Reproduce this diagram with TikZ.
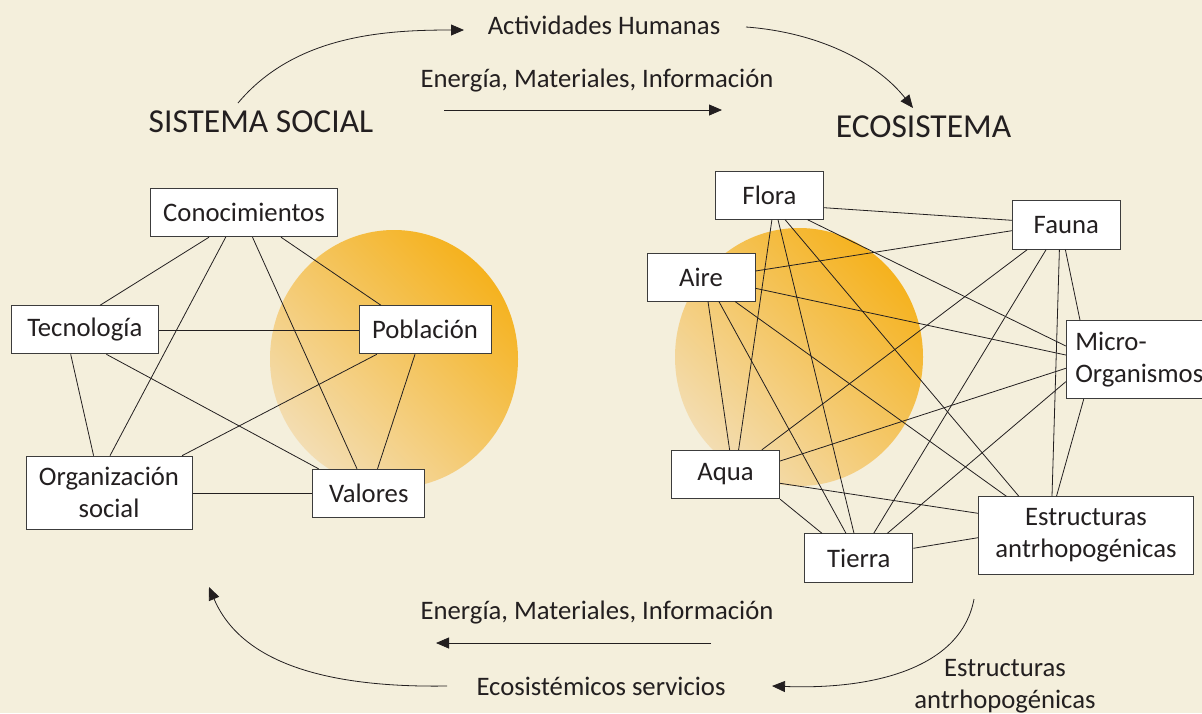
\documentclass[tikz,border=0pt]{standalone}
\usepackage{fontspec}
\setmainfont{Carlito}
\usetikzlibrary{arrows.meta}
\definecolor{bg}{HTML}{F4EFDC}
\definecolor{ink}{HTML}{231F20}
\definecolor{frame}{HTML}{3C3C3C}
\definecolor{orD}{HTML}{F5B21E}
\definecolor{orL}{HTML}{F3DDB2}
\begin{document}
\begin{tikzpicture}[x=1pt,y=-1pt,
  box/.style={draw=frame, line width=1pt, fill=white, text=ink, inner sep=0pt, align=center,
    font=\fontsize{26.7}{32}\selectfont},
  link/.style={draw=ink, line width=0.8pt},
  arr/.style={draw=ink, line width=0.8pt, -{Triangle[length=13pt,width=11pt]}},
  lbl/.style={text=ink, font=\fontsize{26.7}{32}\selectfont, inner sep=0pt, align=center},
  ttl/.style={text=ink, font=\fontsize{33.5}{38}\selectfont, inner sep=0pt},
  blob/.style={top color=orD, bottom color=orL, shading angle=-45}]
\fill[bg] (0,0) rectangle (1202,713);
\useasboundingbox (0,0) rectangle (1202,713);
\clip (0,0) rectangle (1202,713);

% orange discs
\shade[blob] (394,359) ellipse [x radius=124, y radius=129];
\shade[blob] (799,357) ellipse [x radius=124, y radius=129];

% titles and labels
\node[lbl] (act) at (604,25) {Actividades Humanas};
\node[lbl] (emiT) at (597,81) {Energía, Materiales, Información};
\node[ttl] (ss) at (261,122) {SISTEMA SOCIAL};
\node[ttl] (eco) at (923.5,127) {ECOSISTEMA};
\node[lbl] (emiB) at (597,613) {Energía, Materiales, Información};
\node[lbl] (ecs) at (601,686) {Ecosistémicos servicios};
\node[lbl] (esa) at (1005,686) {Estructuras\\antrhopogénicas};

% top arrows
\coordinate (c1s) at (238,103);
\coordinate (c1e) at (464,30);
\coordinate (c2s) at (746,27);
\coordinate (c2e) at (913,108);
\coordinate (s1s) at (444,110);
\coordinate (s1e) at (722,110);
\draw[arr] (c1s) .. controls (295,35) and (385,30) .. (c1e);
\draw[arr] (c2s) .. controls (815,32) and (875,60) .. (c2e);
\draw[arr] (s1s) -- (s1e);

% bottom arrows
\coordinate (b1s) at (447,686);
\coordinate (b1e) at (209,587);
\coordinate (b2s) at (974,599);
\coordinate (b2e) at (772,686);
\coordinate (s2s) at (711,643);
\coordinate (s2e) at (436,643);
\draw[arr] (b1s) .. controls (320,688) and (240,660) .. (b1e);
\draw[arr] (b2s) .. controls (962,665) and (880,690) .. (b2e);
\draw[arr] (s2s) -- (s2e);

% left network
\node[box, minimum width=187pt, minimum height=48pt] (con) at (244,212.7) {Conocimientos};
\node[box, minimum width=147pt, minimum height=48pt] (tec) at (84.8,329.8) {Tecnología};
\node[box, minimum width=132pt, minimum height=48pt] (pob) at (425,329.8) {Población};
\node[box, minimum width=166pt, minimum height=73pt] (org) at (109,492.7) {Organización\\social};
\node[box, minimum width=112pt, minimum height=48pt] (val) at (368.8,493.3) {Valores};

\draw[link] (con.south -| 209,0) -- (tec.north -| 100,0);
\draw[link] (con.south -| 225.7,0) -- (org.north -| 110,0);
\draw[link] (con.south -| 252.5,0) -- (val.north -| 357,0);
\draw[link] (con.south -| 281,0) -- (pob.north -| 381,0);
\draw[link] (tec.east |- 0,330.3) -- (pob.west |- 0,330.3);
\draw[link] (tec.south -| 70.7,0) -- (org.north -| 93.6,0);
\draw[link] (tec.south -| 106.4,0) -- (val.north -| 318.6,0);
\draw[link] (pob.south -| 376.8,0) -- (org.north -| 182,0);
\draw[link] (pob.south -| 415,0) -- (val.north -| 377.5,0);
\draw[link] (org.east |- 0,493.3) -- (val.west |- 0,493.3);

% right network
\node[box, minimum width=108pt, minimum height=48pt] (flo) at (769.5,195.3) {Flora};
\node[box, minimum width=108pt, minimum height=48.6pt] (fau) at (1066.3,225) {Fauna};
\node[box, minimum width=108pt, minimum height=48pt] (air) at (701,277) {Aire};
\node[box, anchor=west, align=left, inner xsep=9pt, text width=140pt, minimum height=78pt] (mic) at (1065.8,359.7) {Micro-\\Organismos};
\node[box, minimum width=108pt, minimum height=48.4pt] (aqu) at (725.6,474.5) {Aqua};
\node[box, minimum width=108pt, minimum height=48.3pt] (tie) at (858.8,558) {Tierra};
\node[box, minimum width=215pt, minimum height=78pt] (est) at (1086,535.7) {Estructuras\\antrhopogénicas};

\draw[link] (flo.east |- 0,207.7) -- (fau.west |- 0,220.3);
\draw[link] (flo.south -| 807.7,0) -- (mic.west |- 0,346);
\draw[link] (flo.south -| 785.2,0) -- (est.north -| 1018.8,0);
\draw[link] (flo.south -| 778,0) -- (tie.north -| 854,0);
\draw[link] (flo.south -| 771.9,0) -- (aqu.north -| 738.6,0);
\draw[link] (air.east |- 0,271) -- (fau.west |- 0,230.7);
\draw[link] (air.east |- 0,288.3) -- (mic.west |- 0,355);
\draw[link] (air.south -| 735,0) -- (est.north -| 1006.3,0);
\draw[link] (air.south -| 718.9,0) -- (tie.north -| 846,0);
\draw[link] (air.south -| 708,0) -- (aqu.north -| 729.6,0);
\draw[link] (fau.south -| 1027,0) -- (aqu.north -| 761.9,0);
\draw[link] (fau.south -| 1046,0) -- (tie.north -| 873.7,0);
\draw[link] (fau.south -| 1059.4,0) -- (est.north -| 1052,0);
\draw[link] (fau.south -| 1065.4,0) -- (mic.north -| 1080,0);
\draw[link] (mic.west |- 0,368.3) -- (aqu.east |- 0,461);
\draw[link] (mic.west |- 0,381.7) -- (tie.north -| 887.3,0);
\draw[link] (mic.south -| 1083.7,0) -- (est.north -| 1056.5,0);
\draw[link] (aqu.east |- 0,483.3) -- (est.west |- 0,513.3);
\draw[link] (aqu.south east) -- (tie.north -| 822,0);
\draw[link] (tie.east |- 0,548.3) -- (est.west |- 0,537.7);
\end{tikzpicture}
\end{document}
